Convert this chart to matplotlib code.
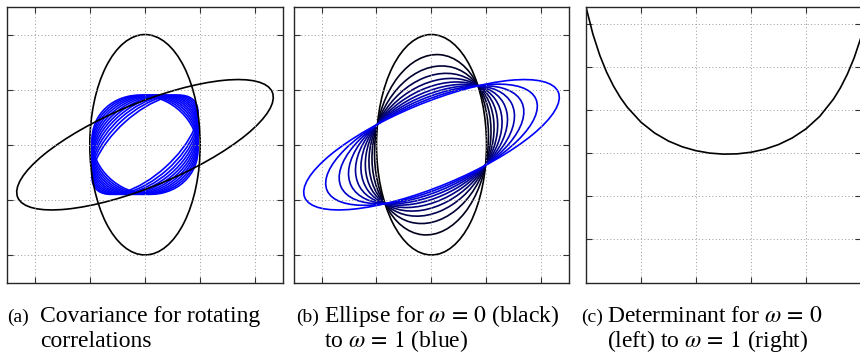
import numpy as np
import matplotlib
matplotlib.use("Agg")
import matplotlib.pyplot as plt
from matplotlib.patches import Ellipse

plt.rcParams["font.family"] = ["Liberation Serif", "DejaVu Serif"]
plt.rcParams["mathtext.fontset"] = "stix"

# (a) start / end covariances (black) and rotating-correlation ellipses (blue)
cov_start = (1.0, 0.0, 4.0)          # sxx, sxy, syy
cov_end = (5.40, 2.0, 1.40)
sd_x_a = 0.96
sd_y_a = 0.90
rho_a = [-0.10, -0.025, 0.05, 0.125, 0.20, 0.275, 0.35, 0.425, 0.50, 0.575, 0.65]

# (b) interpolated covariances, omega = 0 ... 1
omega_b = [0.0, 0.1, 0.2, 0.3, 0.4, 0.5, 0.6, 0.7, 0.8, 0.9, 1.0]
sxx_b = [1.0, 1.0742, 1.1715, 1.2938, 1.4480, 1.6465, 1.9102, 2.2765, 2.8187, 3.7025, 5.3982]
sxy_b = [0.0, 0.1602, 0.2615, 0.3461, 0.4300, 0.5235, 0.6374, 0.7875, 1.0026, 1.3466, 1.9993]
syy_b = [4.0, 2.6786, 2.0450, 1.6797, 1.4491, 1.2984, 1.2027, 1.1520, 1.1480, 1.2090, 1.3996]

# (c) determinant along omega
omega_c = [0.0, 0.025, 0.05, 0.075, 0.1, 0.125, 0.15, 0.2, 0.25, 0.3, 0.35, 0.4,
           0.45, 0.5, 0.55, 0.6, 0.65, 0.7, 0.75, 0.8, 0.85, 0.9, 0.925, 0.95,
           0.975, 1.0]
det_c = [4.0, 3.6075, 3.2998, 3.0531, 2.8516, 2.6849, 2.5453, 2.3273, 2.1690,
         2.0535, 1.9704, 1.9135, 1.8787, 1.8638, 1.8678, 1.8910, 1.9350, 2.0025,
         2.0985, 2.2308, 2.4121, 2.6633, 2.8257, 3.0216, 3.2606, 3.5587]


def cov_ellipse(ax, sxx, sxy, syy, color):
    vals, vecs = np.linalg.eigh([[sxx, sxy], [sxy, syy]])
    angle = np.degrees(np.arctan2(vecs[1, 1], vecs[0, 1]))
    ax.add_patch(Ellipse((0, 0), 2 * np.sqrt(vals[1]), 2 * np.sqrt(vals[0]),
                         angle=angle, fill=False, ec=color, lw=1.2))


def style(ax):
    ax.grid(True, linestyle=(0, (1, 2.5)), color="0.6", linewidth=0.7)
    ax.tick_params(direction="in", length=4, width=0.8, color="0.2",
                   top=True, right=True, labelleft=False, labelbottom=False)
    for s in ax.spines.values():
        s.set_color("0.15")
        s.set_linewidth(1.0)


W, H = 860, 355
fig = plt.figure(figsize=(8.6, 3.55), dpi=100)

def box(left, top, w, h):
    return [left / W, (H - top - h) / H, w / W, h / H]

ax1 = fig.add_axes(box(7, 7, 276, 275.5))
ax2 = fig.add_axes(box(294, 7, 275, 275.5))
ax3 = fig.add_axes(box(586, 7, 275, 275.5))

# panel a
for r in rho_a:
    cov_ellipse(ax1, sd_x_a ** 2, r * sd_x_a * sd_y_a, sd_y_a ** 2, (0, 0, 1))
cov_ellipse(ax1, *cov_start, "black")
cov_ellipse(ax1, *cov_end, "black")

# panel b
for w, a, b, c in zip(omega_b, sxx_b, sxy_b, syy_b):
    cov_ellipse(ax2, a, b, c, (0, 0, w))

for ax in (ax1, ax2):
    ax.set_xlim(-2.5, 2.5)
    ax.set_ylim(-2.5, 2.5)
    ax.set_xticks([-2, -1, 0, 1, 2])
    ax.set_yticks([-2, -1, 0, 1, 2])
    style(ax)

# panel c
ax3.plot(omega_c, det_c, color="black", lw=1.2)
ax3.set_xlim(0, 1)
ax3.set_ylim(0, 4)
ax3.set_xticks([0.2, 0.4, 0.6, 0.8])
ax3.set_yticks([0.625, 1.25, 1.875, 2.5, 3.125, 3.75])
style(ax3)

# captions
captions = [
    (7, 40, "(a)", ["Covariance for rotating", "correlations"]),
    (296, 324, "(b)", [r"Ellipse for $\omega\,=\,0$ (black)", r"to $\omega\,=\,1$ (blue)"]),
    (581, 607, "(c)", [r"Determinant for $\omega\,=\,0$", r"(left) to $\omega\,=\,1$ (right)"]),
]
y1, y2 = 322, 347
for lx, tx, lab, lines in captions:
    fig.text(lx / W, 1 - y1 / H, lab, fontsize=14, va="baseline")
    fig.text(tx / W, 1 - y1 / H, lines[0], fontsize=17, va="baseline")
    fig.text(tx / W, 1 - y2 / H, lines[1], fontsize=17, va="baseline")

fig.savefig("out.png", dpi=100)
